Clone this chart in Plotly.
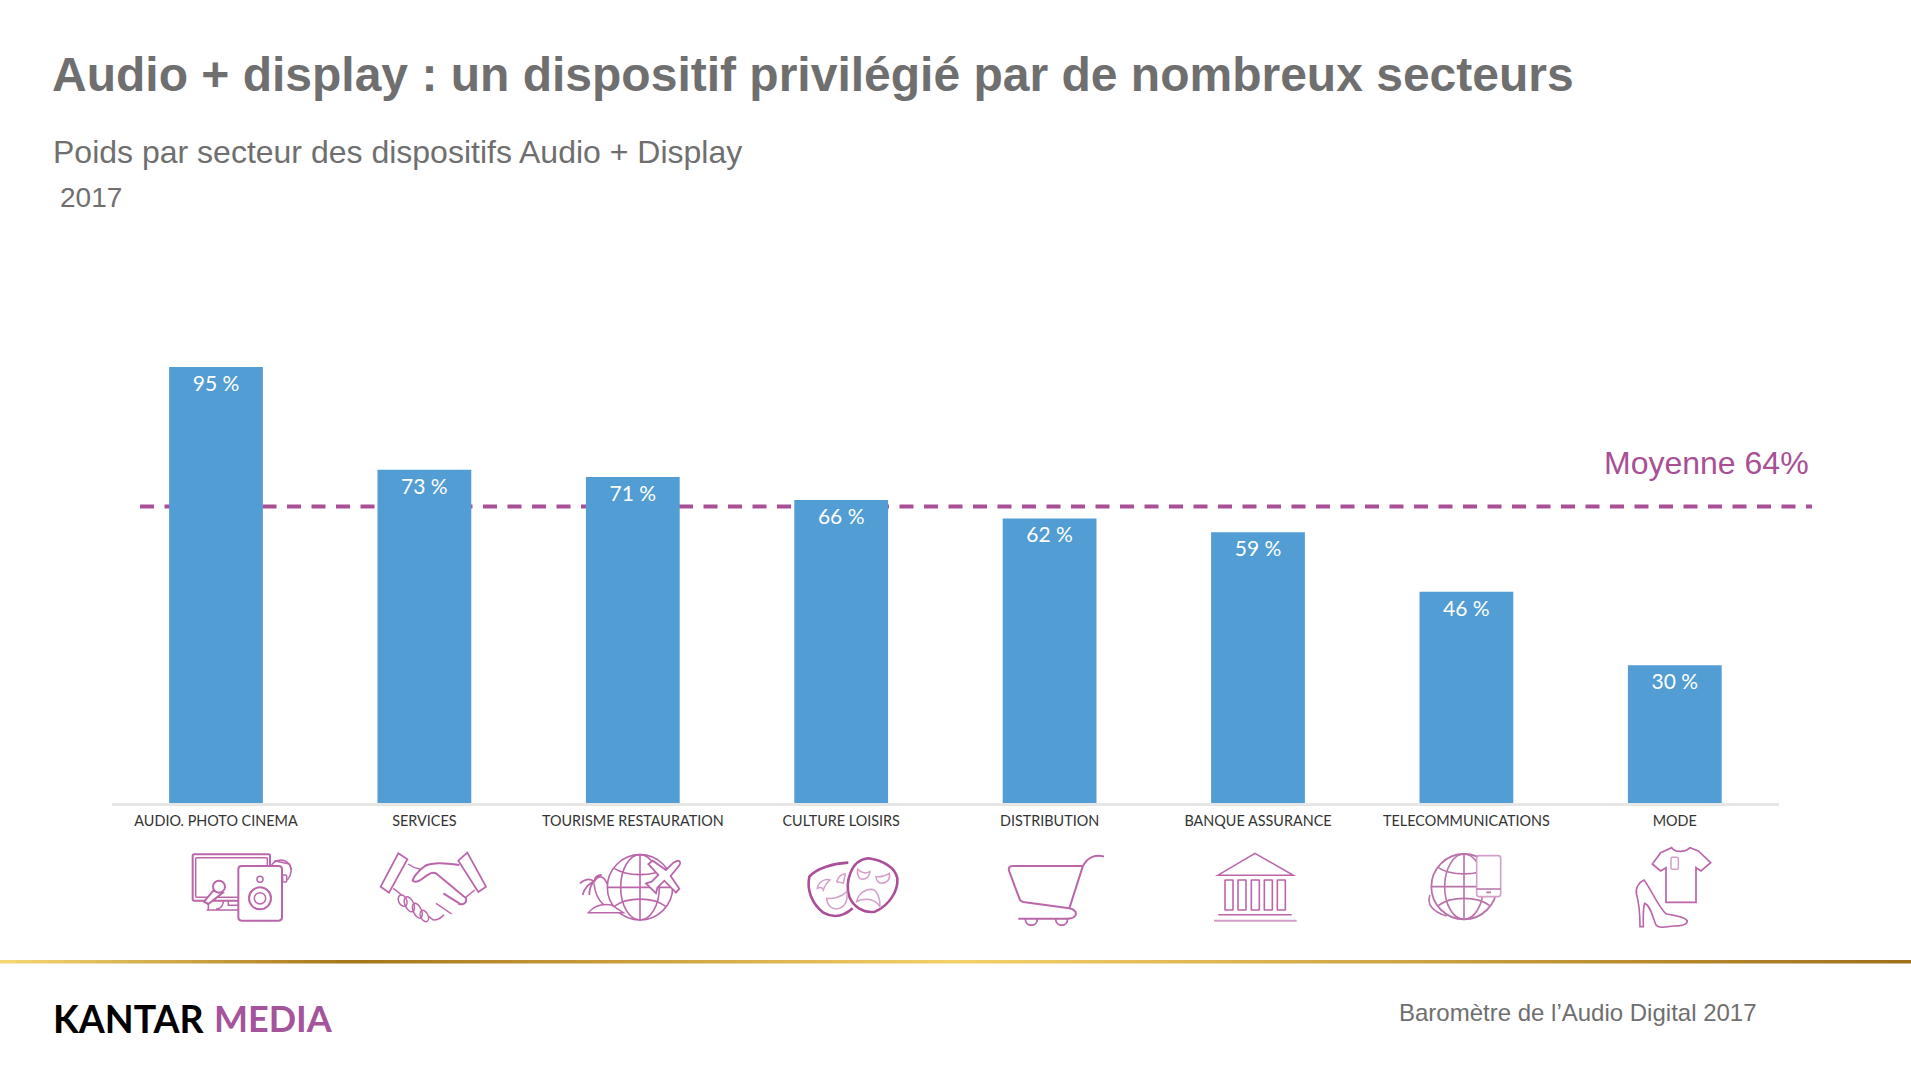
import re, math
import plotly.graph_objects as go

categories = ["AUDIO. PHOTO CINEMA", "SERVICES", "TOURISME RESTAURATION", "CULTURE LOISIRS",
              "DISTRIBUTION", "BANQUE ASSURANCE", "TELECOMMUNICATIONS", "MODE"]
values = [95, 72.6, 71, 66, 62, 59, 46, 30]
value_labels = ["95 %", "73 %", "71 %", "66 %", "62 %", "59 %", "46 %", "30 %"]
average_line = 64.6
average_label = "Moyenne 64%"
title_text = "Audio + display : un dispositif privilégié par de nombreux secteurs"
subtitle_text = "Poids par secteur des dispositifs Audio + Display"
year_text = "2017"
footer_text = "Baromètre de l’Audio Digital 2017"

W, H = 1911, 1071
PURPLE = "#a94f96"
ICON = "#bb66ab"
ICON_LIGHT = "#d39fca"
GREY = "#6f6f6f"
BAR = "#529dd3"
LABEL_FONT = "Lato"

shapes = []


def xf(path, ox, oy):
    nums = iter(range(10 ** 6))

    def rep(m):
        i = next(nums)
        v = float(m.group(0))
        return f"{(ox + v / 3) if i % 2 == 0 else (oy + v / 3):.2f}"

    return re.sub(r"-?\d+(?:\.\d+)?", rep, path)


def ell(cx, cy, rx, ry, a=0):
    k = 0.5523
    ca, sa = math.cos(math.radians(a)), math.sin(math.radians(a))

    def p(x, y):
        return f"{cx + x * ca - y * sa:.1f},{cy + x * sa + y * ca:.1f}"

    return (f"M{p(rx, 0)} C{p(rx, k * ry)} {p(k * rx, ry)} {p(0, ry)} "
            f"C{p(-k * rx, ry)} {p(-rx, k * ry)} {p(-rx, 0)} "
            f"C{p(-rx, -k * ry)} {p(-k * rx, -ry)} {p(0, -ry)} "
            f"C{p(k * rx, -ry)} {p(rx, -k * ry)} {p(rx, 0)} Z")


def rrect(x0, y0, x1, y1, r=6):
    return (f"M{x0 + r},{y0} L{x1 - r},{y0} Q{x1},{y0} {x1},{y0 + r} L{x1},{y1 - r} "
            f"Q{x1},{y1} {x1 - r},{y1} L{x0 + r},{y1} Q{x0},{y1} {x0},{y1 - r} "
            f"L{x0},{y0 + r} Q{x0},{y0} {x0 + r},{y0} Z")


def I(path, color=ICON, width=1.5, fill=None):
    return (path, color, width, fill)


def draw(ox, oy, items):
    for path, color, width, fill in items:
        shapes.append(dict(type="path", xref="x2", yref="y2", path=xf(path, ox, oy),
                           line=dict(color=color, width=width),
                           fillcolor=fill if fill else "rgba(0,0,0,0)", layer="above"))


WHITE = "#ffffff"

# Media icon + handshake (crop origin 180,840)
draw(180, 840, [
    I(rrect(38, 43, 270, 182, 5), width=2),
    I(rrect(47, 53, 262, 172, 3), width=1.5),
    I("M85,182 L85,208 M80,210 L118,210 M108,208 C125,205 130,195 130,183 M118,210 L175,210 M145,183 L145,196 L175,196", width=1.5),
    I("M275,75 C285,58 310,55 325,70 C338,85 335,105 322,120", width=1.5),
    I("M283,62 L328,72 L335,90", width=1.5),
    I(rrect(308, 105, 320, 126, 3), width=1.5),
    I(rrect(175, 78, 306, 242, 10), width=2, fill=WHITE),
    I(ell(240, 118, 9, 9), width=1.5),
    I(ell(240, 175, 33, 33), width=2),
    I(ell(240, 175, 17, 17), width=1.5),
    I("M100,152 L72,185 L85,192 L128,158 Z", width=2, fill=WHITE),
    I(ell(117, 140, 18, 18), width=2, fill=WHITE),
    # handshake
    I("M655,40 L682,58 L627,158 L602,140 Z", width=1.8),
    I("M835,62 L862,38 L918,140 L895,156 Z", width=1.8),
    I("M684,72 C695,80 705,85 722,88", width=1.5),
    I("M838,75 C800,70 760,65 735,78 C718,90 700,110 698,122 C705,130 720,122 735,110 C750,100 758,95 768,100 L858,175 C862,190 845,197 835,190", width=2),
    I("M640,145 L665,165", width=1.5),
    I("M884,150 L857,172", width=1.5),
    I("M790,160 L838,190", width=2),
    I("M768,190 L815,222", width=1.5),
    I("M745,228 L760,240 C775,240 785,232 792,224", width=1.5),
    I(ell(668, 182, 12, 18, -25), width=1.5),
    I(ell(688, 193, 13, 24, -25), width=1.5),
    I(ell(712, 212, 12, 24, -25), width=1.5),
    I(ell(733, 228, 11, 18, -25), width=1.5),
])

# Travel globe + masks (crop origin 570,840)
draw(570, 840, [
    I(ell(210, 142, 98, 98), width=1.6),
    I(ell(210, 142, 58, 98), width=1.6),
    I("M210,44 L210,240 M112,142 L308,142", width=1.6),
    I("M133,85 C170,110 250,110 287,85", width=1.6),
    I("M133,199 C170,170 250,170 287,199", width=1.6),
    I("M322,62 C332,62 332,70 328,76 L302,108 L328,146 L318,158 L283,122 L262,143 L258,160 L228,130 L245,125 L265,105 L235,72 L248,62 L288,90 L310,68 Z", width=1.8, fill=WHITE),
    I("M55,218 C70,200 95,190 125,195 L160,218 L55,218 Z", width=1.5, fill=WHITE),
    I("M72,130 C75,160 85,180 100,193", width=1.5),
    I("M72,125 C60,112 40,120 30,130 M72,125 C60,128 42,145 38,165 M72,125 C62,135 58,150 58,165 M72,125 C85,105 100,105 112,132 M72,125 C75,110 85,105 95,105", width=1.8),
    # masks
    I("M835,68 C790,70 740,85 718,110 C710,150 725,190 760,218 C790,235 820,230 848,205", width=2.6, color="#ab4f98"),
    I("M895,55 C935,60 975,80 982,115 C985,150 960,195 915,215 C880,220 850,200 838,170 C825,130 840,60 895,55 Z", width=2.6, color="#ab4f98", fill=WHITE),
    I("M742,145 C745,125 765,115 780,120 C770,128 765,135 760,150 C755,140 748,142 742,145 Z", color=ICON_LIGHT),
    I("M800,125 C805,110 815,102 826,102 L820,130 C810,125 804,128 800,125 Z", color=ICON_LIGHT),
    I("M770,175 C790,178 815,170 830,155 C835,180 825,205 800,207 C785,207 770,195 770,175 Z", color=ICON_LIGHT),
    I("M863,88 C875,100 890,100 900,95 C898,110 890,118 875,118 C865,115 860,100 863,88 Z", color=ICON_LIGHT),
    I("M918,110 C930,112 945,108 958,100 C962,118 950,130 935,130 C925,130 918,120 918,110 Z", color=ICON_LIGHT),
    I("M860,185 C865,160 885,148 905,148 C920,150 932,175 930,200 C920,185 905,178 890,178 C878,178 868,180 860,185 Z", color=ICON_LIGHT),
])

# Cart + bank (crop origin 1000,840)
cols = "".join(rrect(x, 120, x + 24, 210, 1) + " " for x in (675, 714, 754, 793, 832))
draw(1000, 840, [
    I("M312,50 C290,42 262,50 248,80 L208,205", width=2),
    I("M248,78 L38,78 C28,78 24,85 28,95 L58,175 C60,183 65,186 75,187 L208,205 C225,208 232,218 225,228 C220,236 210,236 200,236 L55,236", width=2),
    I("M76,236 C76,262 112,262 112,236", width=1.8),
    I("M167,236 C167,262 203,262 203,236", width=1.8),
    I("M653,106 L765,40 L880,106 Z", width=1.5),
    I(cols, width=1.6),
    I("M655,224 L875,224", width=1.5),
    I("M642,242 L890,242", width=2, color=ICON_LIGHT),
])

# Telecom + fashion (crop origin 1410,840)
draw(1410, 840, [
    I(ell(162, 140, 98, 98), width=1.8, color="#b873aa"),
    I(ell(162, 140, 58, 98), width=1.6, color="#b873aa"),
    I("M162,42 L162,238 M64,140 L260,140", width=1.6, color="#b873aa"),
    I("M85,83 C122,108 202,108 239,83", width=1.6, color="#b873aa"),
    I("M85,197 C122,168 202,168 239,197", width=1.6, color="#b873aa"),
    I("M60,165 C50,190 65,215 110,228", width=1.6, color="#b873aa"),
    I(rrect(200, 47, 272, 170, 8), width=1.6, color=ICON_LIGHT, fill=WHITE),
    I("M200,147 L272,147 M229,157 L243,157", width=1.6, color="#b873aa"),
    I("M752,38 L785,23 C795,38 825,38 840,23 L865,33 L902,68 L873,93 L858,83 L858,187 L768,187 L768,83 L752,93 L727,72 Z", width=1.7),
    I(rrect(783, 52, 805, 88, 4), width=1.5, color=ICON_LIGHT),
    I("M702,120 C685,128 675,145 680,165 C690,200 690,230 690,260 L700,260 C700,235 698,205 704,190 C720,195 728,230 738,255 C745,265 760,262 790,258 C815,258 832,255 832,242 C825,232 790,225 770,222 C750,210 725,150 702,120 Z", width=1.6),
])

# Gold separator
stops = [(0, (247, 216, 116)), (350, (166, 117, 26)), (955, (245, 208, 104)), (1911, (160, 112, 26))]


def gold(x):
    for (a, ca), (b, cb) in zip(stops, stops[1:]):
        if a <= x <= b:
            t = (x - a) / (b - a)
            return "rgb(%d,%d,%d)" % tuple(round(p + (q - p) * t) for p, q in zip(ca, cb))


for s in range(0, W, 16):
    shapes.append(dict(type="rect", xref="x2", yref="y2", x0=s, x1=s + 16, y0=960, y1=963.5,
                       fillcolor=gold(min(s + 8, W)), line=dict(width=0), layer="above"))

# Logo K stem highlight
shapes.append(dict(type="rect", xref="x2", yref="y2", x0=59, x1=61.5, y0=1006, y1=1033,
                   fillcolor="#c8992f", line=dict(width=0), layer="above"))

# Dashed average line, drawn behind the bars
shapes.append(dict(type="line", xref="paper", yref="y", x0=140 / W, x1=1812 / W,
                   y0=average_line, y1=average_line, layer="below",
                   line=dict(color=PURPLE, width=4, dash="14px,10.5px")))


def txt(x, y, text, size, color, anchor="left", family="Liberation Sans", weight=None):
    font = dict(family=family, size=size, color=color)
    if weight:
        font["weight"] = weight
    return dict(xref="x2", yref="y2", x=x, y=y, text=text, showarrow=False, xanchor=anchor,
                yanchor="middle", font=font, borderpad=0, align=anchor)


annotations = [
    txt(51.5, 152, subtitle_text, 32, GREY),
    txt(59, 197.5, year_text, 28, GREY),
    txt(1810, 463, average_label, 32, PURPLE, anchor="right"),
    txt(1398, 1012, footer_text, 24, GREY),
    txt(52, 1018, "KANTAR", 37.5, "#000000", family="Lato", weight=700),
    txt(213, 1018, "MEDIA", 36, "#a5549b", family="Lato", weight=700),
]

fig = go.Figure()
fig.add_trace(go.Bar(
    x=categories, y=values, width=0.45, marker=dict(color=BAR, line=dict(width=0)),
    text=value_labels, textposition="inside", insidetextanchor="end",
    textangle=0, textfont=dict(family=LABEL_FONT, size=21, color="#ffffff"),
    hoverinfo="x+y", showlegend=False))
fig.add_trace(go.Scatter(x=[0], y=[0], xaxis="x2", yaxis="y2", mode="markers",
                         marker=dict(size=1, opacity=0), hoverinfo="skip", showlegend=False))

fig.update_layout(
    width=W, height=H, margin=dict(l=0, r=0, t=0, b=0),
    paper_bgcolor="#ffffff", plot_bgcolor="rgba(0,0,0,0)", showlegend=False,
    title=dict(text=title_text, x=52 / W, xanchor="left", xref="paper", y=1 - 74 / H, yanchor="middle",
               font=dict(family="Liberation Sans", size=48, color=GREY, weight=700)),
    xaxis=dict(domain=[111.8 / W, 1779 / W], range=[-0.5, 7.5], type="category",
               categoryorder="array", categoryarray=categories, showgrid=False, zeroline=False,
               showline=True, linecolor="#e6e6e6", linewidth=3, ticks="",
               tickfont=dict(family=LABEL_FONT, size=14.4, color="#333333"), ticklabelstandoff=3),
    yaxis=dict(domain=[(H - 803) / H, (H - 344) / H], range=[0, 100], visible=False),
    xaxis2=dict(domain=[0, 1], range=[0, W], visible=False, anchor="y2", fixedrange=True),
    yaxis2=dict(domain=[0, 1], range=[H, 0], visible=False, anchor="x2", fixedrange=True),
    shapes=shapes, annotations=annotations,
)

fig.write_html("out.html", config={"displayModeBar": False},
               post_script="document.body.style.margin='0';document.body.style.overflow='hidden';")
